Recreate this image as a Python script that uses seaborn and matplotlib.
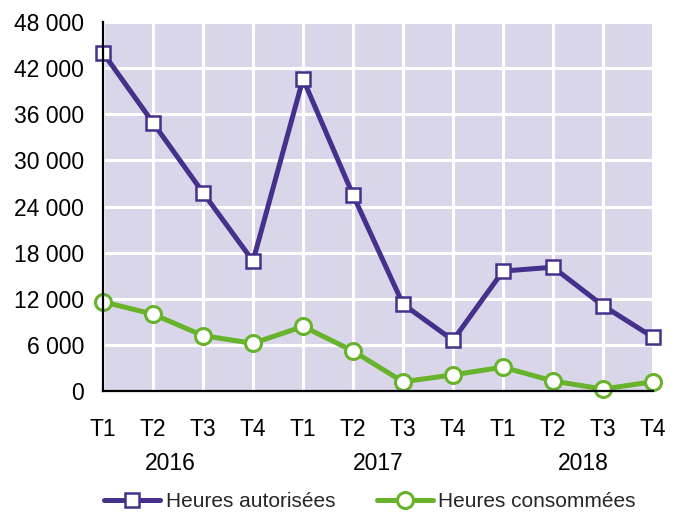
import matplotlib
matplotlib.use("Agg")
import matplotlib.pyplot as plt
import seaborn as sns
import pandas as pd
from matplotlib.ticker import FuncFormatter

quarters = ["T1", "T2", "T3", "T4"] * 3
years = ["2016", "2017", "2018"]
autorisees = [44000, 34900, 25800, 16900, 40600, 25500, 11300, 6600, 15600, 16100, 11100, 7000]
consommees = [11600, 10000, 7200, 6200, 8400, 5200, 1200, 2100, 3100, 1300, 250, 1200]
series_names = ["Heures autorisées", "Heures consommées"]

sns.set_theme(style="white")
plt.rcParams["font.family"] = ["Liberation Sans", "DejaVu Sans"]

purple = "#45318c"
green = "#67b32b"
bg = "#dad6ea"

idx = list(range(len(quarters)))
df = pd.DataFrame({
    "x": idx * 2,
    "y": autorisees + consommees,
    "serie": [series_names[0]] * len(idx) + [series_names[1]] * len(idx),
})

fig = plt.figure(figsize=(6.83, 5.13), dpi=100)
ax = fig.add_axes([103 / 683, 1 - 391 / 513, 550 / 683, 369 / 513])
ax.set_facecolor(bg)

sns.lineplot(data=df[df.serie == series_names[0]], x="x", y="y", ax=ax,
             color=purple, lw=3.6, marker="s", markersize=10,
             markerfacecolor="white", markeredgecolor=purple, markeredgewidth=1.8,
             clip_on=False, zorder=4, label=series_names[0])
sns.lineplot(data=df[df.serie == series_names[1]], x="x", y="y", ax=ax,
             color=green, lw=3.6, marker="o", markersize=11.5,
             markerfacecolor="white", markeredgecolor=green, markeredgewidth=2.2,
             clip_on=False, zorder=3, label=series_names[1])

ax.set_xlim(0, len(quarters) - 1)
ax.set_ylim(0, 48000)
ax.set_yticks(range(0, 48001, 6000))
ax.yaxis.set_major_formatter(FuncFormatter(lambda v, p: f"{int(v):,}".replace(",", " ")))
ax.set_xticks(idx)
ax.set_xticklabels(quarters)
ax.set_xlabel("")
ax.set_ylabel("")

ax.grid(True, color="white", lw=2.2)
ax.set_axisbelow(True)
for s in ["top", "right"]:
    ax.spines[s].set_visible(False)
for s in ["left", "bottom"]:
    ax.spines[s].set_color("black")
    ax.spines[s].set_linewidth(1.6)
    ax.spines[s].set_zorder(5)

ax.tick_params(axis="both", direction="inout", length=13, width=1.6, color="black",
               labelsize=16.5, labelcolor="black")
ax.tick_params(axis="x", pad=13)
ax.tick_params(axis="y", pad=7)

year_pos = [1.35, 5.5, 9.6]
for yp, yr in zip(year_pos, years):
    ax.text(yp, -0.197, yr, transform=ax.get_xaxis_transform(), ha="center", va="center",
            fontsize=16.5, color="black")

ax.legend(loc="center", bbox_to_anchor=(0.5 - 8 / 550, -0.3), ncol=2, frameon=False,
          fontsize=15, handlelength=2.7, handletextpad=0.25, columnspacing=2.0,
          borderaxespad=0)

fig.savefig("out.png", dpi=100)
